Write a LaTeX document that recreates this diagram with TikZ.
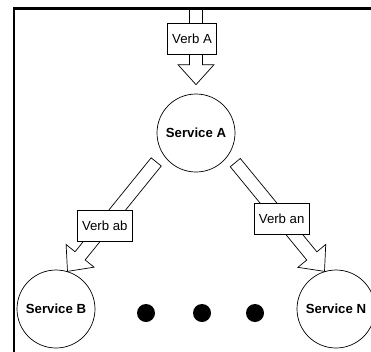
\documentclass[tikz,border=0pt]{standalone}
\usepackage{fontspec}
\setmainfont{Liberation Sans}
\usetikzlibrary{calc}

% Hollow block arrow from #1 (tail) to #2 (tip)
\newcommand{\blockarrow}[2]{%
  \path ($(#2)!20pt!(#1)$) coordinate (neck);
  \draw[arrowbody]
    ($(#1)!6.5pt!90:(#2)$) -- ($(neck)!6.5pt!90:(#2)$) -- ($(neck)!18pt!90:(#2)$)
    -- (#2)
    -- ($(neck)!18pt!-90:(#2)$) -- ($(neck)!6.5pt!-90:(#2)$) -- ($(#1)!6.5pt!-90:(#2)$)
    -- cycle;}

\tikzset{
  service/.style={circle, draw, line width=0.7pt, minimum size=78pt, inner sep=0pt,
                  font=\fontsize{13.2}{15}\selectfont\bfseries},
  verbbox/.style={rectangle, draw, fill=white, line width=0.7pt, minimum height=31pt,
                  inner xsep=4.5pt, inner ysep=0pt, font=\fontsize{13.2}{15}\selectfont},
  arrowbody/.style={draw, fill=white, line width=0.7pt, line join=miter},
  bullet/.style={circle, fill=black, minimum size=18pt, inner sep=0pt},
  frameline/.style={line width=2.2pt, line cap=rect}
}

\begin{document}
\begin{tikzpicture}[x=1pt, y=-1pt]
  \useasboundingbox (0,0) rectangle (371,351);
  \clip (0,0) rectangle (371,351);

  % services
  \node[service] (A) at (196,133) {Service A};
  \node[service] (B) at (56,309) {Service B};
  \node[service] (N) at (336,309) {Service N};

  % ellipsis dots
  \node[bullet] (d1) at (146,313) {};
  \node[bullet] (d2) at (202,313) {};
  \node[bullet] (d3) at (255,313) {};

  % arrow ends
  \coordinate (inS) at (196,9);
  \coordinate (inT) at ($(A.north)+(0,-9)$);
  \coordinate (abS) at ($(A)!1.25!(A.-144)$);
  \coordinate (abT) at (B.73);
  \coordinate (anS) at ($(A)!1.25!(A.-37)$);
  \coordinate (anT) at (N.107);

  % block arrows
  \blockarrow{inS}{inT}
  \blockarrow{abS}{abT}
  \blockarrow{anS}{anT}

  % verb labels
  \node[verbbox] (vA) at (192,38.5) {Verb A};
  \node[verbbox] (vab) at ($(abS)!0.58!(abT)$) {Verb ab};
  \node[verbbox] (van) at ($(anS)!0.52!(anT)$) {Verb an};

  % frame
  \draw[frameline] (14,351) -- (14,8.5) -- (371,8.5);
\end{tikzpicture}
\end{document}
